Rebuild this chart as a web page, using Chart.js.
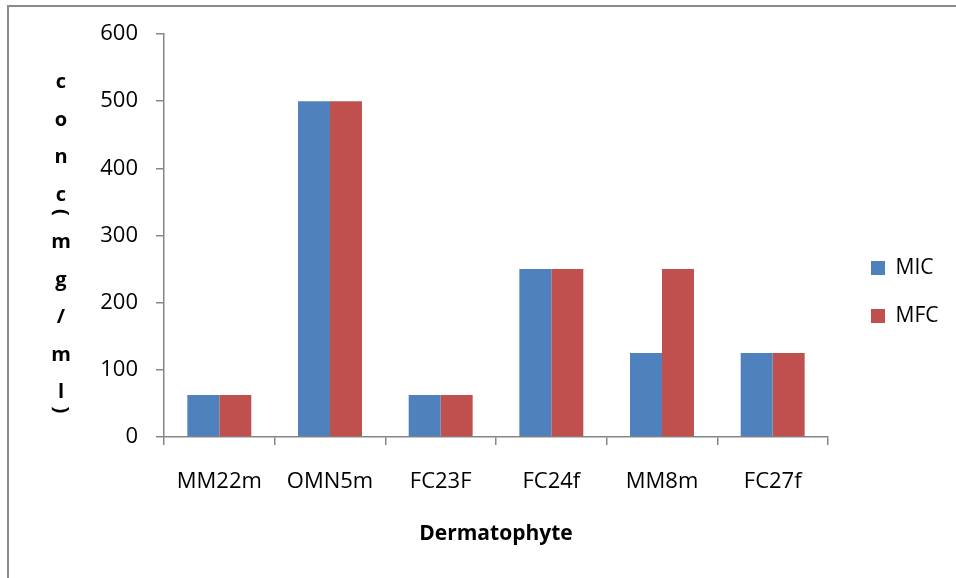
<!DOCTYPE html>
<html><head><meta charset="utf-8">
<script src="https://cdn.jsdelivr.net/npm/chart.js@4.4.1/dist/chart.umd.min.js"></script>
<style>
html,body{margin:0;padding:0;background:#fff;overflow:hidden}
#wrap{position:relative;width:956px;height:578px}
#frame{position:absolute;left:7px;top:5px;width:960px;height:590px;border-left:2px solid #8a8a8a;border-top:2px solid #8a8a8a;pointer-events:none}
</style></head><body>
<div id="wrap"><canvas id="c"></canvas><div id="frame"></div></div>
<script>
const categories = ['MM22m','OMN5m','FC23F','FC24f','MM8m','FC27f'];
const micValues = [62.5, 500, 62.5, 250, 125, 125];
const mfcValues = [62.5, 500, 62.5, 250, 250, 125];
const seriesNames = ['MIC','MFC'];
const yMin = 0, yMax = 600, yStep = 100;
const yTitle = 'conc(mg/ml)';
const xTitle = 'Dermatophyte';

const AXIS = '#868686';
const FONT = 'Open Sans';

const stackedTitle = {
  id: 'stackedTitle',
  afterDraw(chart) {
    const ctx = chart.ctx;
    ctx.save();
    ctx.fillStyle = '#000';
    ctx.font = 'bold 20px "' + FONT + '"';
    ctx.textAlign = 'center';
    const x = 61;
    let base = 88;
    let first = true;
    for (const ch of yTitle) {
      if (ch === '(' || ch === ')') {
        const cy = base + 12;
        ctx.save();
        ctx.translate(x, cy);
        ctx.rotate(Math.PI / 2);
        ctx.textBaseline = 'middle';
        ctx.fillText(ch, 0, 0);
        ctx.restore();
        base += 10;
        continue;
      }
      if (!first) base += 37.5;
      first = false;
      ctx.textBaseline = 'alphabetic';
      ctx.fillText(ch, x, base);
    }
    ctx.restore();
  }
};

const legendShift = {
  id: 'legendShift',
  afterLayout(chart) {
    const lg = chart.legend;
    if (!lg) return;
    const dx = 871 - 27 - lg.left;
    const dy = 292 - (lg.top + lg.bottom) / 2;
    lg.left += dx; lg.right += dx;
    lg.top += dy; lg.bottom += dy;
  }
};

new Chart(document.getElementById('c'), {
  type: 'bar',
  data: {
    labels: categories,
    datasets: [
      { label: seriesNames[0], data: micValues, backgroundColor: '#4F81BD', borderWidth: 0 },
      { label: seriesNames[1], data: mfcValues, backgroundColor: '#C0504D', borderWidth: 0 }
    ]
  },
  options: {
    responsive: true,
    maintainAspectRatio: false,
    animation: false,
    layout: { padding: { top: 34, right: 28, bottom: 0, left: 0 } },
    datasets: { bar: { categoryPercentage: 0.578, barPercentage: 1 } },
    plugins: {
      tooltip: { enabled: false },
      legend: {
        position: 'right',
        align: 'center',
        maxWidth: 100,
        labels: { boxWidth: 14, boxHeight: 14, padding: 27, color: '#000', font: { family: FONT, size: 21 } }
      }
    },
    scales: {
      x: {
        afterFit(s) { s.height = 141; },
        grid: { display: true, drawOnChartArea: false, drawTicks: true, tickLength: 8, color: AXIS, lineWidth: 1.5, offset: true },
        border: { display: true, color: AXIS, width: 1.5 },
        ticks: { color: '#000', font: { family: FONT, size: 22 }, padding: 24, maxRotation: 0, autoSkip: false },
        title: { display: true, text: xTitle, color: '#000', font: { family: FONT, size: 21, weight: 'bold' }, padding: { top: 0, bottom: 31 } }
      },
      y: {
        min: yMin, max: yMax,
        afterFit(s) { s.width = 164; },
        grid: { display: true, drawOnChartArea: false, drawTicks: true, tickLength: 8, color: AXIS, lineWidth: 1.5 },
        border: { display: true, color: AXIS, width: 1.5 },
        ticks: { stepSize: yStep, color: '#000', font: { family: FONT, size: 22 }, padding: 18 }
      }
    }
  },
  plugins: [stackedTitle, legendShift]
});
</script>
</body></html>
